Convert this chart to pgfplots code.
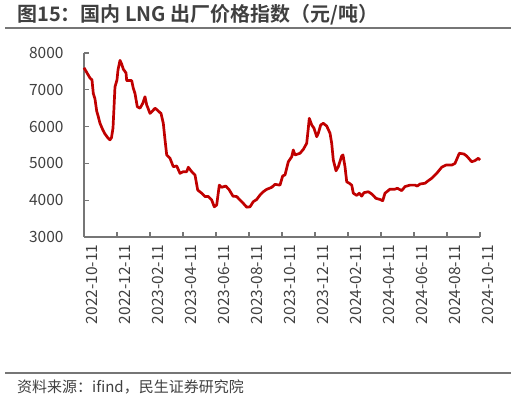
\documentclass[border=0pt]{standalone}
\usepackage{fontspec}
\setmainfont{Noto Sans CJK SC}[BoldFont={Noto Sans CJK SC Bold}]
\usepackage{pgfplots}
\pgfplotsset{compat=1.18}
\definecolor{lngred}{RGB}{192,0,0}
\definecolor{txtgray}{RGB}{64,64,64}
\definecolor{axgray}{RGB}{118,118,118}
\begin{document}
\begin{tikzpicture}[x=1pt,y=1pt]
\useasboundingbox (0,0) rectangle (516,401);
% title
\node[anchor=base west, inner sep=0pt, text=txtgray] at (17,379) {\fontsize{20}{23}\selectfont\bfseries 图15：国内 LNG 出厂价格指数（元/吨）};
\draw[axgray, line width=1.6pt] (5,373) -- (511,373);
% source
\draw[axgray, line width=1.6pt] (5,28) -- (511,28);
\node[anchor=base west, inner sep=0pt, text=txtgray] at (17,8) {\fontsize{15}{18}\selectfont 资料来源：ifind，民生证券研究院};
\begin{axis}[
  at={(84pt,164pt)}, anchor=south west,
  scale only axis, width=396pt, height=184pt,
  xmin=0, xmax=12, ymin=3000, ymax=8000,
  axis lines=left, axis line style={axgray, line width=1.2pt, -},
  axis line shift=0pt,
  tick style={axgray, line width=1.2pt},
  tick align=inside, major tick length=5pt,
  xtick={0,1,2,3,4,5,6,7,8,9,10,11,12},
  xticklabels={2022-10-11,2022-12-11,2023-02-11,2023-04-11,2023-06-11,2023-08-11,2023-10-11,2023-12-11,2024-02-11,2024-04-11,2024-06-11,2024-08-11,2024-10-11},
  ytick={3000,4000,5000,6000,7000,8000},
  /pgf/number format/1000 sep={},
  /pgf/number format/assume math mode=true,
  ticklabel style={font=\fontsize{15.5}{18}\selectfont, text=txtgray},
  xticklabel style={rotate=90, anchor=east, xshift=-4pt, yshift=-8pt},
  yticklabel style={anchor=east, xshift=-17pt},
  clip=false,
]
\addplot[lngred, line width=2.7pt, line join=round] coordinates {
(0.000,7600) (0.182,7320) (0.242,7270) (0.282,6900) (0.333,6750) (0.385,6420) (0.424,6300)
(0.485,6090) (0.576,5900) (0.636,5800) (0.727,5690) (0.788,5640) (0.833,5700) (0.879,5960)
(0.939,7080) (1.000,7270) (1.030,7540) (1.091,7800) (1.142,7700) (1.191,7560) (1.273,7460)
(1.294,7250) (1.445,7250) (1.494,7040) (1.545,6900) (1.615,6540) (1.697,6500) (1.779,6630)
(1.848,6810) (1.900,6590) (2.000,6360) (2.052,6400) (2.152,6500) (2.221,6450) (2.303,6380)
(2.333,6360) (2.403,6090) (2.455,5640) (2.506,5230) (2.606,5140) (2.706,4910) (2.809,4930)
(2.909,4730) (3.009,4775) (3.112,4775) (3.161,4895) (3.264,4775) (3.364,4685) (3.445,4277)
(3.567,4190) (3.667,4100) (3.767,4100) (3.870,4005) (3.948,3820) (4.021,3870) (4.100,4410)
(4.173,4350) (4.294,4385) (4.394,4290) (4.515,4110) (4.627,4100) (4.727,4005) (4.827,3915)
(4.930,3810) (5.030,3820) (5.130,3960) (5.233,4020) (5.333,4140) (5.433,4230) (5.536,4295)
(5.688,4350) (5.788,4430) (5.939,4410) (6.021,4660) (6.091,4685) (6.191,5045) (6.294,5180)
(6.342,5365) (6.394,5230) (6.545,5275) (6.645,5380) (6.748,5545) (6.797,5955) (6.827,6225)
(6.900,6045) (6.970,5955) (7.052,5725) (7.100,5820) (7.173,6045) (7.252,6090) (7.355,6015)
(7.455,5820) (7.506,5545) (7.555,5090) (7.636,4800) (7.706,4910) (7.809,5200) (7.848,5230)
(7.909,4910) (7.961,4500) (8.039,4460) (8.112,4410) (8.161,4190) (8.264,4130) (8.342,4190)
(8.415,4110) (8.485,4205) (8.615,4230) (8.718,4170) (8.848,4050) (8.970,4020) (9.052,3985)
(9.121,4190) (9.273,4300) (9.424,4300) (9.494,4325) (9.627,4260) (9.727,4370) (9.879,4410)
(10.030,4410) (10.100,4385) (10.182,4440) (10.333,4460) (10.433,4530) (10.536,4595)
(10.688,4730) (10.839,4895) (10.970,4955) (11.142,4955) (11.242,5000) (11.373,5275)
(11.515,5255) (11.597,5200) (11.748,5045) (11.848,5075) (11.948,5140) (12.000,5090)
};
\end{axis}
\end{tikzpicture}
\end{document}
